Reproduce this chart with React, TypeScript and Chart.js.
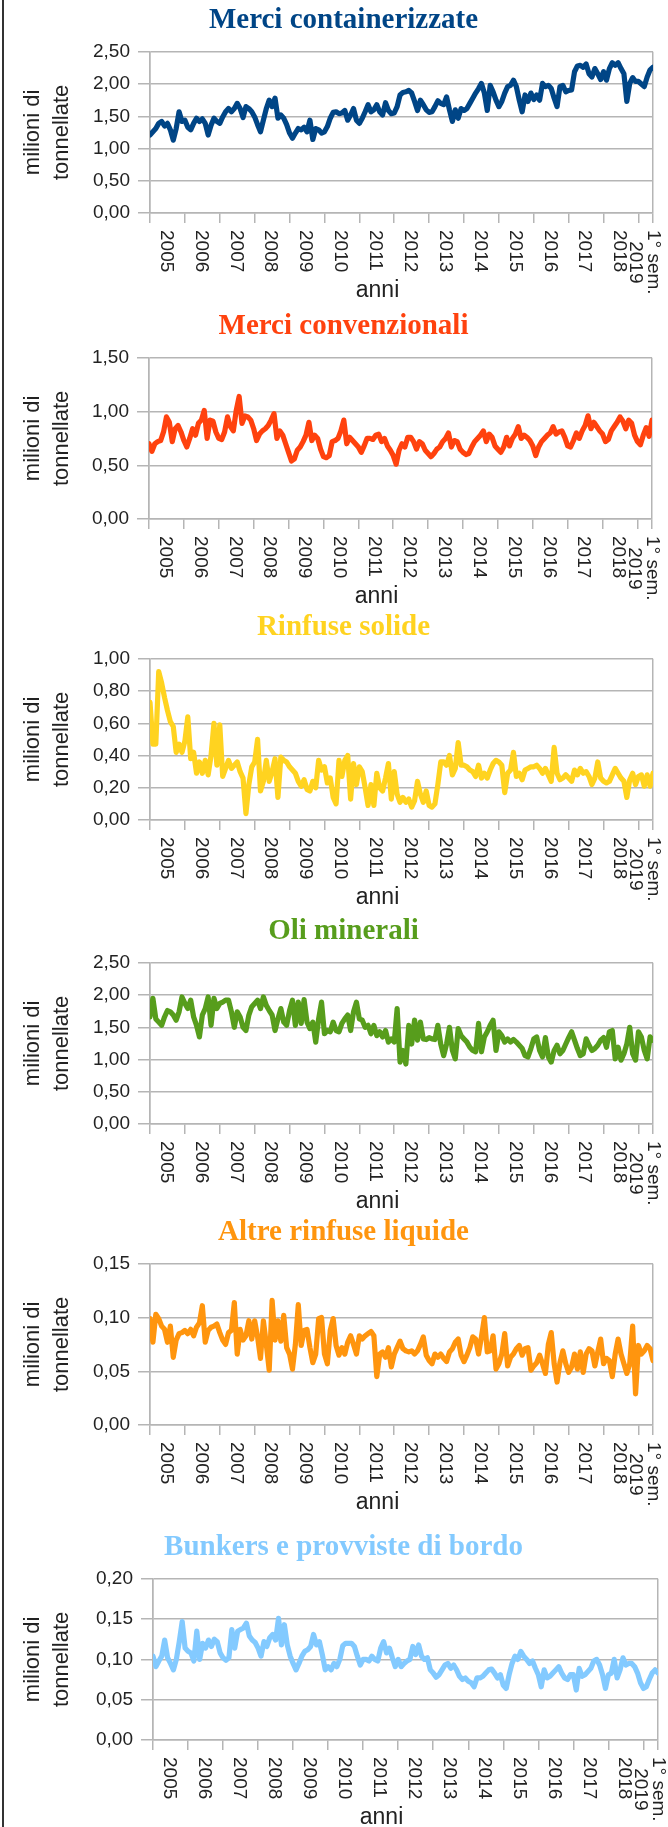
import React, { useEffect, useRef } from "react";
import { Chart, registerables } from "chart.js";

Chart.register(...registerables);

// ---------- data (monthly values, Jan 2005 .. Jun 2019) ----------
const yearLabels: string[][] = [
  ["2005"], ["2006"], ["2007"], ["2008"], ["2009"], ["2010"], ["2011"],
  ["2012"], ["2013"], ["2014"], ["2015"], ["2016"], ["2017"], ["2018"],
  ["1° sem.", "2019"],
];
const yearTicks: number[] = [0, 12, 24, 36, 48, 60, 72, 84, 96, 108, 120, 132, 144, 156, 168, 173];

const containerizzate: number[] = [
  1.21, 1.26, 1.31, 1.39, 1.42, 1.35, 1.39, 1.29, 1.13, 1.31, 1.57, 1.42,
  1.44, 1.33, 1.29, 1.39, 1.47, 1.42, 1.46, 1.39, 1.21, 1.36, 1.47, 1.42,
  1.39, 1.49, 1.57, 1.62, 1.57, 1.62, 1.70, 1.62, 1.48, 1.65, 1.62, 1.57,
  1.49, 1.37, 1.26, 1.44, 1.62, 1.75, 1.65, 1.78, 1.47, 1.52, 1.47, 1.37,
  1.24, 1.16, 1.24, 1.31, 1.29, 1.33, 1.26, 1.44, 1.14, 1.31, 1.29, 1.24,
  1.26, 1.34, 1.47, 1.56, 1.57, 1.54, 1.55, 1.59, 1.44, 1.52, 1.62, 1.44,
  1.39, 1.47, 1.57, 1.68, 1.57, 1.60, 1.68, 1.57, 1.52, 1.71, 1.59, 1.54,
  1.55, 1.65, 1.83, 1.87, 1.88, 1.90, 1.86, 1.73, 1.59, 1.75, 1.68, 1.60,
  1.56, 1.57, 1.65, 1.74, 1.70, 1.68, 1.80, 1.60, 1.42, 1.60, 1.47, 1.62,
  1.59, 1.62, 1.70, 1.78, 1.86, 1.93, 2.01, 1.86, 1.59, 1.98, 1.88, 1.75,
  1.65, 1.73, 1.86, 1.96, 1.98, 2.06, 1.96, 1.75, 1.57, 1.83, 1.73, 1.86,
  1.76, 1.83, 1.75, 2.01, 1.96, 1.98, 1.93, 1.78, 1.65, 1.96, 1.98, 1.88,
  1.90, 1.91, 2.19, 2.28, 2.29, 2.26, 2.31, 2.16, 2.11, 2.24, 2.16, 2.07,
  2.19, 2.06, 2.24, 2.33, 2.29, 2.33, 2.24, 2.16, 1.73, 2.01, 2.10, 2.04,
  2.04, 2.00, 1.96, 2.11, 2.22, 2.26,
];

const convenzionali: number[] = [
  0.70, 0.63, 0.70, 0.72, 0.73, 0.81, 0.95, 0.90, 0.72, 0.84, 0.87, 0.81,
  0.73, 0.67, 0.75, 0.84, 0.78, 0.89, 0.92, 1.01, 0.75, 0.92, 0.91, 0.81,
  0.75, 0.74, 0.81, 0.95, 0.86, 0.82, 1.01, 1.14, 0.89, 0.96, 0.95, 0.92,
  0.84, 0.73, 0.79, 0.82, 0.84, 0.87, 0.92, 0.98, 0.75, 0.82, 0.78, 0.70,
  0.62, 0.54, 0.56, 0.64, 0.67, 0.72, 0.78, 0.90, 0.73, 0.78, 0.75, 0.65,
  0.58, 0.57, 0.59, 0.72, 0.73, 0.75, 0.82, 0.92, 0.70, 0.76, 0.73, 0.70,
  0.67, 0.62, 0.68, 0.75, 0.75, 0.74, 0.78, 0.79, 0.72, 0.75, 0.68, 0.64,
  0.59, 0.51, 0.64, 0.70, 0.67, 0.76, 0.76, 0.72, 0.65, 0.72, 0.70, 0.64,
  0.61, 0.58, 0.61, 0.65, 0.67, 0.72, 0.75, 0.80, 0.67, 0.73, 0.72, 0.65,
  0.62, 0.60, 0.61, 0.67, 0.72, 0.75, 0.78, 0.82, 0.72, 0.79, 0.76, 0.68,
  0.65, 0.62, 0.67, 0.76, 0.68, 0.75, 0.79, 0.86, 0.75, 0.78, 0.76, 0.73,
  0.68, 0.59, 0.67, 0.72, 0.75, 0.78, 0.80, 0.86, 0.79, 0.81, 0.82, 0.76,
  0.68, 0.67, 0.73, 0.80, 0.75, 0.82, 0.87, 0.96, 0.84, 0.90, 0.86, 0.82,
  0.79, 0.72, 0.74, 0.82, 0.86, 0.90, 0.95, 0.91, 0.84, 0.92, 0.89, 0.78,
  0.72, 0.69, 0.78, 0.85, 0.77, 0.92,
];

const rinfuseSolide: number[] = [
  0.73, 0.47, 0.47, 0.92, 0.85, 0.76, 0.68, 0.61, 0.58, 0.42, 0.47, 0.42,
  0.49, 0.64, 0.38, 0.42, 0.29, 0.36, 0.29, 0.37, 0.28, 0.40, 0.60, 0.34,
  0.59, 0.27, 0.32, 0.37, 0.32, 0.34, 0.36, 0.30, 0.26, 0.04, 0.22, 0.33,
  0.36, 0.50, 0.18, 0.24, 0.37, 0.24, 0.30, 0.38, 0.14, 0.39, 0.37, 0.36,
  0.33, 0.31, 0.29, 0.24, 0.21, 0.25, 0.19, 0.18, 0.24, 0.20, 0.37, 0.31,
  0.33, 0.23, 0.26, 0.14, 0.10, 0.37, 0.27, 0.37, 0.40, 0.13, 0.35, 0.22,
  0.33, 0.30, 0.20, 0.09, 0.22, 0.09, 0.29, 0.20, 0.18, 0.26, 0.35, 0.13,
  0.30, 0.16, 0.11, 0.14, 0.11, 0.13, 0.08, 0.12, 0.24, 0.16, 0.11, 0.18,
  0.09, 0.08, 0.10, 0.22, 0.36, 0.36, 0.34, 0.40, 0.28, 0.32, 0.48, 0.34,
  0.34, 0.33, 0.31, 0.30, 0.27, 0.34, 0.26, 0.29, 0.26, 0.31, 0.35, 0.37,
  0.36, 0.34, 0.17, 0.29, 0.31, 0.42, 0.27, 0.29, 0.25, 0.31, 0.32, 0.33,
  0.33, 0.34, 0.32, 0.29, 0.32, 0.28, 0.24, 0.45, 0.29, 0.25, 0.26, 0.28,
  0.26, 0.24, 0.31, 0.28, 0.32, 0.29, 0.30, 0.27, 0.22, 0.26, 0.36, 0.26,
  0.24, 0.23, 0.24, 0.28, 0.32, 0.29, 0.26, 0.24, 0.14, 0.25, 0.29, 0.22,
  0.27, 0.28, 0.21, 0.28, 0.21, 0.29,
];

const oliMinerali: number[] = [
  1.66, 1.95, 1.63, 1.58, 1.53, 1.66, 1.76, 1.74, 1.69, 1.61, 1.74, 1.97,
  1.87, 1.79, 1.92, 1.66, 1.53, 1.35, 1.69, 1.79, 1.97, 1.53, 1.95, 1.79,
  1.87, 1.89, 1.92, 1.92, 1.74, 1.50, 1.74, 1.66, 1.50, 1.45, 1.69, 1.82,
  1.87, 1.92, 1.79, 1.97, 1.84, 1.76, 1.69, 1.45, 1.63, 1.79, 1.58, 1.53,
  1.76, 1.92, 1.53, 1.89, 1.56, 1.93, 1.58, 1.48, 1.58, 1.27, 1.63, 1.89,
  1.40, 1.45, 1.43, 1.58, 1.45, 1.43, 1.56, 1.63, 1.69, 1.45, 1.74, 1.89,
  1.63, 1.61, 1.50, 1.53, 1.40, 1.53, 1.37, 1.43, 1.35, 1.45, 1.27, 1.32,
  1.27, 1.79, 0.96, 1.14, 0.93, 1.53, 1.24, 1.61, 1.30, 1.58, 1.32, 1.31,
  1.34, 1.32, 1.31, 1.53, 1.24, 1.06, 1.24, 1.50, 1.14, 1.01, 1.48, 1.37,
  1.32, 1.27, 1.19, 1.14, 1.12, 1.56, 1.12, 1.35, 1.43, 1.53, 1.61, 1.14,
  1.43, 1.37, 1.27, 1.32, 1.27, 1.31, 1.27, 1.22, 1.17, 1.06, 1.04, 1.17,
  1.32, 1.35, 1.14, 1.04, 1.34, 1.04, 0.96, 1.14, 1.22, 1.09, 1.14, 1.24,
  1.34, 1.43, 1.30, 1.17, 1.06, 1.09, 1.32, 1.22, 1.14, 1.17, 1.22, 1.30,
  1.34, 1.19, 1.43, 1.45, 1.01, 1.19, 0.99, 1.09, 1.24, 1.50, 1.09, 0.99,
  1.43, 1.35, 1.14, 1.01, 1.35, 1.30,
];

const altreRinfuse: number[] = [
  0.099, 0.077, 0.103, 0.099, 0.092, 0.089, 0.077, 0.092, 0.063, 0.079, 0.085, 0.086,
  0.088, 0.085, 0.089, 0.083, 0.091, 0.095, 0.111, 0.077, 0.088, 0.091, 0.092, 0.094,
  0.086, 0.079, 0.075, 0.086, 0.088, 0.114, 0.066, 0.089, 0.079, 0.083, 0.097, 0.080,
  0.097, 0.082, 0.062, 0.097, 0.075, 0.051, 0.116, 0.079, 0.097, 0.078, 0.102, 0.072,
  0.066, 0.052, 0.075, 0.112, 0.074, 0.088, 0.089, 0.072, 0.058, 0.066, 0.099, 0.100,
  0.066, 0.057, 0.088, 0.099, 0.074, 0.065, 0.072, 0.066, 0.077, 0.083, 0.075, 0.066,
  0.083, 0.080, 0.083, 0.085, 0.087, 0.083, 0.045, 0.066, 0.068, 0.063, 0.072, 0.054,
  0.066, 0.072, 0.078, 0.071, 0.069, 0.068, 0.069, 0.066, 0.069, 0.075, 0.082, 0.065,
  0.060, 0.057, 0.066, 0.063, 0.066, 0.062, 0.059, 0.068, 0.071, 0.077, 0.080, 0.065,
  0.059, 0.065, 0.072, 0.082, 0.080, 0.066, 0.082, 0.100, 0.068, 0.069, 0.083, 0.052,
  0.057, 0.066, 0.085, 0.055, 0.063, 0.066, 0.071, 0.074, 0.065, 0.071, 0.072, 0.051,
  0.055, 0.058, 0.065, 0.057, 0.048, 0.075, 0.086, 0.057, 0.040, 0.058, 0.069, 0.057,
  0.049, 0.054, 0.066, 0.052, 0.068, 0.049, 0.066, 0.071, 0.069, 0.055, 0.068, 0.080,
  0.057, 0.062, 0.060, 0.045, 0.066, 0.080, 0.066, 0.057, 0.048, 0.057, 0.092, 0.029,
  0.074, 0.066, 0.069, 0.074, 0.071, 0.060,
];

const bunkers: number[] = [
  0.104, 0.091, 0.098, 0.104, 0.124, 0.102, 0.095, 0.087, 0.100, 0.122, 0.147, 0.114,
  0.110, 0.108, 0.098, 0.135, 0.100, 0.120, 0.114, 0.124, 0.116, 0.125, 0.122, 0.108,
  0.102, 0.099, 0.102, 0.137, 0.114, 0.135, 0.137, 0.139, 0.145, 0.129, 0.124, 0.121,
  0.114, 0.104, 0.122, 0.116, 0.127, 0.131, 0.124, 0.151, 0.118, 0.143, 0.118, 0.104,
  0.095, 0.087, 0.095, 0.104, 0.110, 0.112, 0.116, 0.131, 0.118, 0.122, 0.106, 0.087,
  0.091, 0.087, 0.095, 0.091, 0.100, 0.117, 0.120, 0.120, 0.120, 0.116, 0.104, 0.093,
  0.100, 0.100, 0.098, 0.104, 0.100, 0.098, 0.114, 0.122, 0.108, 0.114, 0.102, 0.091,
  0.100, 0.091, 0.095, 0.098, 0.100, 0.116, 0.106, 0.118, 0.104, 0.100, 0.102, 0.087,
  0.083, 0.078, 0.081, 0.087, 0.093, 0.095, 0.089, 0.093, 0.087, 0.079, 0.075, 0.077,
  0.073, 0.071, 0.066, 0.077, 0.077, 0.079, 0.083, 0.087, 0.088, 0.083, 0.077, 0.081,
  0.068, 0.064, 0.081, 0.095, 0.104, 0.100, 0.110, 0.104, 0.100, 0.095, 0.098, 0.089,
  0.081, 0.066, 0.087, 0.077, 0.079, 0.083, 0.087, 0.091, 0.083, 0.077, 0.075, 0.081,
  0.081, 0.062, 0.089, 0.079, 0.081, 0.085, 0.089, 0.098, 0.100, 0.093, 0.081, 0.064,
  0.081, 0.083, 0.100, 0.077, 0.087, 0.102, 0.093, 0.095, 0.095, 0.091, 0.083, 0.071,
  0.064, 0.066, 0.075, 0.083, 0.087, 0.083,
];

const yTicks250: number[] = [0, 0.5, 1, 1.5, 2, 2.5];
const yTicks150: number[] = [0, 0.5, 1, 1.5];
const yTicks100: number[] = [0, 0.2, 0.4, 0.6, 0.8, 1];
const yTicks015: number[] = [0, 0.05, 0.1, 0.15];
const yTicks020: number[] = [0, 0.05, 0.1, 0.15, 0.2];

// ---------- styling / layout ----------
const SANS = '"Liberation Sans", Arial, sans-serif';
const SERIF = '"Liberation Serif", "Times New Roman", serif';
const GRID = "#b5b5b5";
const TEXT = "#222222";
const CANVAS_W = 668;
const CANVAS_H = 304;

type ChartSpec = {
  title: string;
  color: string;
  values: number[];
  yTicks: number[];
  top: number;
  plotLeft: number;
  plotRight: number;
};

const specs: ChartSpec[] = [
  { title: "Merci containerizzate", color: "#004586", values: containerizzate, yTicks: yTicks250, top: 0, plotLeft: 150, plotRight: 653 },
  { title: "Merci convenzionali", color: "#ff420e", values: convenzionali, yTicks: yTicks150, top: 306, plotLeft: 149, plotRight: 652 },
  { title: "Rinfuse solide", color: "#ffd320", values: rinfuseSolide, yTicks: yTicks100, top: 607, plotLeft: 150, plotRight: 653 },
  { title: "Oli minerali", color: "#579d1c", values: oliMinerali, yTicks: yTicks250, top: 911, plotLeft: 150, plotRight: 653 },
  { title: "Altre rinfuse liquide", color: "#ff950e", values: altreRinfuse, yTicks: yTicks015, top: 1212, plotLeft: 150, plotRight: 653 },
  { title: "Bunkers e provviste di bordo", color: "#83caff", values: bunkers, yTicks: yTicks020, top: 1527, plotLeft: 153, plotRight: 658 },
];

const xLabelPlugin = {
  id: "xLabelsCW",
  afterDraw(chart: any) {
    const xs = chart.scales.x;
    const ctx = chart.ctx as CanvasRenderingContext2D;
    ctx.save();
    ctx.fillStyle = TEXT;
    ctx.font = `19px ${SANS}`;
    ctx.textAlign = "center";
    ctx.textBaseline = "middle";
    const top = xs.top + 17;
    yearLabels.forEach((lines, k) => {
      const mid = (yearTicks[k] + yearTicks[k + 1]) / 2 - 0.5;
      const px = xs.getPixelForValue(mid);
      const w = Math.max(...lines.map((l) => ctx.measureText(l).width));
      ctx.save();
      ctx.translate(px, top);
      ctx.rotate(Math.PI / 2);
      lines.forEach((l, j) => {
        ctx.fillText(l, w / 2, (j - (lines.length - 1) / 2) * 18.5);
      });
      ctx.restore();
    });
    ctx.font = `23px ${SANS}`;
    const ca = chart.chartArea;
    ctx.fillText("anni", (ca.left + ca.right) / 2 - 24, xs.top + 78);
    ctx.restore();
  },
};

function LineChart({ spec }: { spec: ChartSpec }) {
  const ref = useRef<HTMLCanvasElement | null>(null);
  useEffect(() => {
    if (!ref.current) return;
    const yMax = spec.yTicks[spec.yTicks.length - 1];
    const chart = new Chart(ref.current, {
      type: "line",
      data: {
        datasets: [
          {
            data: spec.values.map((v, i) => ({ x: i, y: v })),
            borderColor: spec.color,
            backgroundColor: spec.color,
            borderWidth: 5.2,
            pointRadius: 0,
            tension: 0,
            fill: false,
            borderJoinStyle: "round",
            borderCapStyle: "round",
          },
        ],
      },
      options: {
        responsive: false,
        animation: false,
        layout: { padding: { left: 19, right: 0, top: 0, bottom: 0 } },
        plugins: {
          legend: { display: false },
          tooltip: { enabled: false },
          title: {
            display: true,
            text: spec.title,
            color: spec.color,
            font: { family: SERIF, size: 29, weight: "bold", lineHeight: 1.2 },
            padding: { top: 3, bottom: 14 },
          },
        },
        scales: {
          x: {
            type: "linear",
            min: 0,
            max: 173,
            afterBuildTicks: (s: any) => {
              s.ticks = yearTicks.map((v) => ({ value: v }));
            },
            ticks: { display: false },
            grid: {
              color: (c: any) =>
                c.tick && (c.tick.value === 0 || c.tick.value === 173) ? GRID : "rgba(0,0,0,0)",
              tickColor: GRID,
              tickLength: 10,
              lineWidth: 1.5,
              tickWidth: 1.5,
              drawOnChartArea: true,
              drawTicks: true,
            },
            border: { display: true, color: GRID, width: 1.5 },
            afterFit: (s: any) => {
              s.height = CANVAS_H - 213;
            },
          },
          y: {
            type: "linear",
            min: 0,
            max: yMax,
            afterBuildTicks: (s: any) => {
              s.ticks = spec.yTicks.map((v) => ({ value: v }));
            },
            ticks: {
              callback: (v: any) => Number(v).toFixed(2).replace(".", ","),
              font: { family: SANS, size: 19 },
              color: TEXT,
              padding: 8,
            },
            grid: { color: GRID, lineWidth: 1.5, tickLength: 12 },
            border: { color: GRID, width: 1.5 },
            title: {
              display: true,
              text: ["milioni di", "tonnellate"],
              color: TEXT,
              font: { family: SANS, size: 22, lineHeight: 1.3 },
              padding: { top: 0, bottom: 0 },
            },
            afterFit: (s: any) => {
              s.width = spec.plotLeft - 19;
            },
          },
          yR: {
            type: "linear",
            position: "right",
            display: true,
            grid: { display: false },
            ticks: { display: false },
            border: { display: false },
            afterFit: (s: any) => {
              s.width = CANVAS_W - spec.plotRight;
            },
          },
        },
      },
      plugins: [xLabelPlugin],
    } as any);
    return () => chart.destroy();
  }, [spec]);
  return (
    <canvas
      ref={ref}
      width={CANVAS_W}
      height={CANVAS_H}
      style={{ position: "absolute", left: 0, top: spec.top, width: CANVAS_W, height: CANVAS_H }}
    />
  );
}

export default function App() {
  return (
    <div
      style={{
        position: "absolute",
        left: 0,
        top: 0,
        width: 668,
        height: 1827,
        overflow: "hidden",
        background: "#ffffff",
      }}
    >
      {specs.map((s) => (
        <LineChart key={s.title} spec={s} />
      ))}
      <div style={{ position: "absolute", left: 2, top: 0, width: 2, height: 1827, background: "#333333" }} />
    </div>
  );
}
